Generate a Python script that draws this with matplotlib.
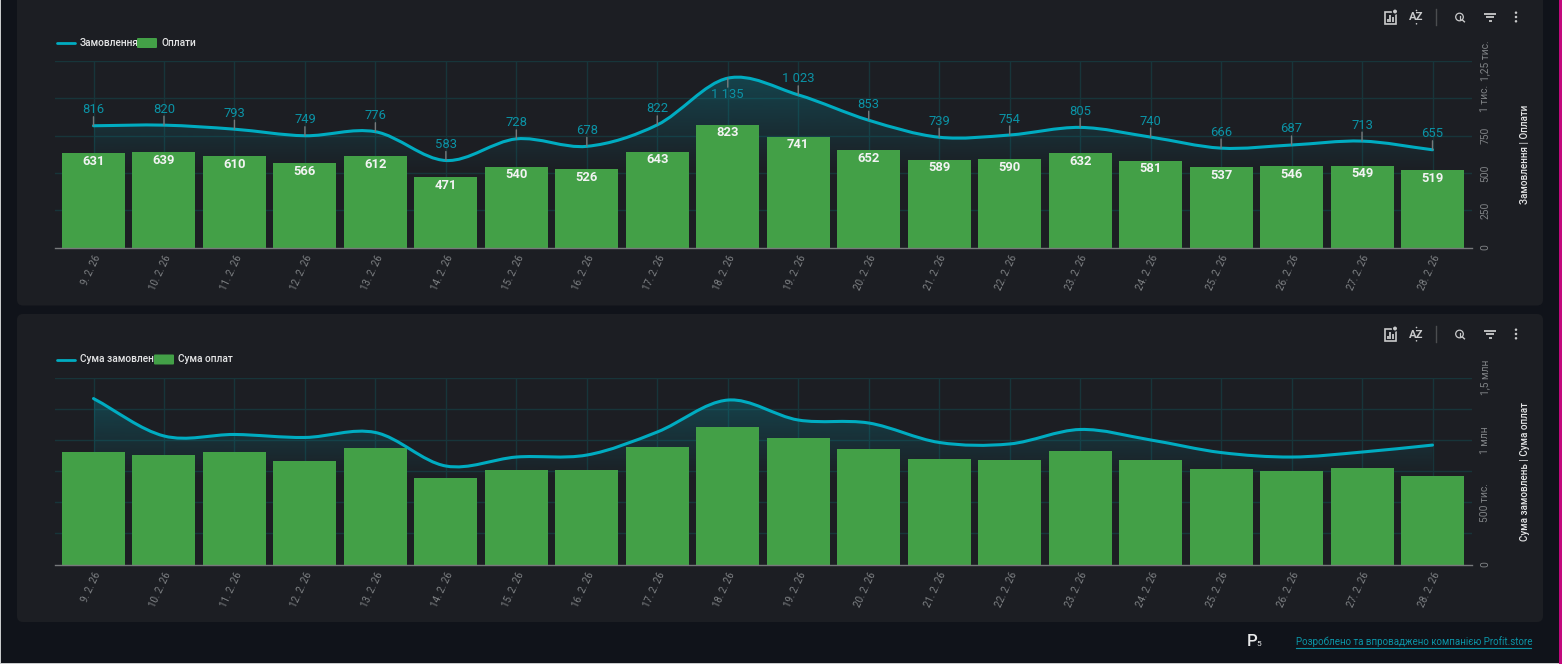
import numpy as np
import matplotlib
matplotlib.use("Agg")
import matplotlib.pyplot as plt
from matplotlib.patches import FancyBboxPatch, PathPatch, Rectangle, Circle
from matplotlib.path import Path

plt.rcParams["font.family"] = ["Roboto", "DejaVu Sans"]

W, H = 1562, 664

days = [f"{d}. 2. 26" for d in range(9, 29)]

orders = [816, 820, 793, 749, 776, 583, 728, 678, 822, 1135,
          1023, 853, 739, 754, 805, 740, 666, 687, 713, 655]
payments = [631, 639, 610, 566, 612, 471, 540, 526, 643, 823,
            741, 652, 589, 590, 632, 581, 537, 546, 549, 519]

order_sums = [1331e3, 1031e3, 1043e3, 1019e3, 1059e3, 790e3, 862e3, 878e3, 1063e3, 1319e3,
              1159e3, 1135e3, 979e3, 967e3, 1083e3, 999e3, 898e3, 862e3, 902e3, 958e3]
payment_sums = [902e3, 878e3, 906e3, 830e3, 938e3, 694e3, 762e3, 762e3, 946e3, 1099e3,
                1015e3, 926e3, 846e3, 838e3, 910e3, 842e3, 770e3, 750e3, 774e3, 710e3]

top_ticks = [0, 250, 500, 750, 1000, 1250]
top_tick_labels = ["0", "250", "500", "750", "1 тис.", "1,25 тис."]
bottom_grid = [0, 250e3, 500e3, 750e3, 1000e3, 1250e3, 1500e3]
bottom_tick_labels = {0: "0", 500e3: "500 тис.", 1000e3: "1 млн", 1500e3: "1,5 млн"}

PAGE = "#10131a"
PANEL = "#1c1e23"
GREEN = "#43a047"
TEAL = "#00acc1"
TEAL_TEXT = "#0b93a6"
GRID = "#17353a"
TICK = "#7f8285"
SOFT = "#e4e5e6"


def smooth_path(x, y):
    """Catmull-Rom curve through the points, expressed as cubic Bezier segments."""
    x, y = np.asarray(x, float), np.asarray(y, float)
    dx = np.gradient(x)
    dy = np.gradient(y)
    verts = [(x[0], y[0])]
    codes = [Path.MOVETO]
    for i in range(len(x) - 1):
        verts += [(x[i] + dx[i] / 3, y[i] + dy[i] / 3),
                  (x[i + 1] - dx[i + 1] / 3, y[i + 1] - dy[i + 1] / 3),
                  (x[i + 1], y[i + 1])]
        codes += [Path.CURVE4] * 3
    return verts, codes


fig = plt.figure(figsize=(W / 100, H / 100), dpi=100, facecolor=PAGE)

# Page layer in pixel coordinates: panels, legends, toolbars and footer
page = fig.add_axes([0, 0, 1, 1])
page.set_xlim(0, W)
page.set_ylim(H, 0)
page.axis("off")
page.add_patch(Rectangle((0, 0), 1, H, fc="#c9cbcc", ec="none"))
page.add_patch(Rectangle((0, 663), W, 1, fc="#c9cbcc", ec="none"))
page.add_patch(Rectangle((1558.7, 0), 3.3, H, fc="#c2087c", ec="none"))
for top, bottom in [(-20, 305.5), (314, 622)]:
    page.add_patch(FancyBboxPatch((17 + 6, top + 6), 1526 - 12, bottom - top - 12,
                                  boxstyle="round,pad=6,rounding_size=6",
                                  fc=PANEL, ec="none"))


def legend(y, line_name, bar_name, rect_x, bar_text_x):
    page.plot([57, 75], [y, y], color=TEAL, lw=2.0, solid_capstyle="round")
    label = page.text(80, y, line_name, color=SOFT, fontsize=7.3, fontweight="medium",
                      va="center", ha="left", clip_on=True)
    label.set_clip_path(Rectangle((57, y - 12), rect_x - 57, 24, transform=page.transData))
    page.add_patch(FancyBboxPatch((rect_x + 1, y - 4), 18, 8,
                                  boxstyle="round,pad=1,rounding_size=1",
                                  fc=GREEN, ec="none", zorder=3))
    page.text(bar_text_x, y, bar_name, color=SOFT, fontsize=7.3, fontweight="medium",
              va="center", ha="left")


def toolbar(y):
    col = "#c9cacb"
    # chart settings icon
    page.add_patch(Rectangle((1385, y - 5.5), 10.5, 12, fc="none", ec=col, lw=1.2))
    for bx, bh in [(1387.7, 3), (1390.2, 7), (1392.7, 4.5)]:
        page.plot([bx, bx], [y + 4.5, y + 4.5 - bh], color=col, lw=1.3, solid_capstyle="butt")
    page.add_patch(Circle((1395, y - 5.5), 2.6, fc=col, ec=PANEL, lw=0.9))
    # sort icon
    page.text(1416, y + 0.5, "AZ", color=col, fontsize=8.2, fontweight="bold",
              ha="center", va="center")
    page.add_patch(Circle((1416.5, y - 6.5), 0.8, fc=col, ec="none"))
    page.add_patch(Circle((1416.5, y + 6.8), 0.8, fc=col, ec="none"))
    # separator
    page.plot([1436, 1436], [y - 8, y + 8], color="#4b4d50", lw=1)
    # zoom icon
    page.add_patch(Circle((1459.5, y), 3.8, fc="none", ec=col, lw=0.9))
    page.plot([1462.2, 1464.4], [y + 2.8, y + 4.8], color=col, lw=1.0)
    page.plot([1459.5, 1459.5], [y - 1.5, y + 1.5], color=col, lw=0.9)
    # filter icon
    for half, dy in [(6, -3.5), (4, 0), (1.5, 3.5)]:
        page.plot([1490 - half, 1490 + half], [y + dy, y + dy], color=col, lw=1.3,
                  solid_capstyle="butt")
    # kebab icon
    for dy in (-4.3, 0, 4.3):
        page.add_patch(Circle((1516, y + dy), 1.25, fc=col, ec="none"))


legend(43, "Замовлення", "Оплати", 137, 161)
legend(359.5, "Сума замовлень", "Сума оплат", 154, 178)
toolbar(17)
toolbar(334)

# Footer
page.text(1252, 642, "P", color="#e8e9ea", fontsize=12, fontweight="medium", ha="center", va="center")
page.text(1259, 644.5, "5", color="#e8e9ea", fontsize=6, ha="center", va="center")
page.text(1296, 642, "Розроблено та впроваджено компанією Profit.store", color=TEAL_TEXT,
          fontsize=7.05, ha="left", va="center")
page.plot([1296, 1531], [647.5, 647.5], color=TEAL_TEXT, lw=0.8)


def chart(y_top, y_zero, y_max, grid_vals, tick_map, line_vals, bar_vals, title, title_y,
          show_labels):
    left, right = 55, 1472
    ax = fig.add_axes([left / W, 1 - y_zero / H, (right - left) / W, (y_zero - y_top) / H])
    ax.patch.set_alpha(0)
    x = np.arange(len(days))
    step = (1432.5 - 93.5) / 19
    xlim = ((left - 93.5) / step, (right - 93.5) / step)

    for g in grid_vals[1:]:
        ax.axhline(g, color=GRID, lw=1, zorder=1)
    for xi in x:
        ax.axvline(xi, color=GRID, lw=1, zorder=1)

    ax.bar(x, bar_vals, width=63 / step, color=GREEN, zorder=3)

    verts, codes = smooth_path(x, line_vals)
    area = Path(verts + [(x[-1], 0), (x[0], 0), (x[0], line_vals[0])],
                codes + [Path.LINETO, Path.LINETO, Path.CLOSEPOLY])
    # Teal wash under the curve, fading out downward behind the bars
    ramp_top = max(line_vals) * 1.02
    ramp_bottom = min(line_vals) * 0.86
    ramp = np.zeros((200, 1, 4))
    ramp[..., :3] = matplotlib.colors.to_rgb(TEAL)
    ramp[..., 3] = np.linspace(0.27, 0.0, 200).reshape(-1, 1)
    img = ax.imshow(ramp, extent=(x[0], x[-1], ramp_bottom, ramp_top), aspect="auto",
                    origin="upper", zorder=2, interpolation="bilinear")
    img.set_clip_path(PathPatch(area, transform=ax.transData))

    ax.add_patch(PathPatch(Path(verts, codes), fc="none", ec=TEAL, lw=2.2, zorder=4,
                           capstyle="round"))

    if show_labels:
        for xi, lv, bv in zip(x, line_vals, bar_vals):
            text = f"{lv:,}".replace(",", " ")
            # the tallest value does not fit above the curve, so it hangs beneath it
            sign = -1 if lv > 1100 else 1
            ax.annotate("", xy=(xi, lv), xytext=(0, sign * 9), textcoords="offset pixels",
                        arrowprops=dict(arrowstyle="-", color="#77797b", lw=1,
                                        shrinkA=0, shrinkB=0), zorder=5)
            ax.annotate(text, xy=(xi, lv), xytext=(0, sign * 16), textcoords="offset pixels",
                        color=TEAL_TEXT, fontsize=9.4, ha="center", va="center", zorder=6,
                        annotation_clip=False)
            ax.annotate(str(bv), xy=(xi, bv), xytext=(0, -8), textcoords="offset pixels",
                        color="#f2f3f3", fontsize=9.4, fontweight="bold", ha="center",
                        va="center", zorder=6)

    ax.set_xlim(*xlim)
    ax.set_ylim(0, y_max)
    ax.set_xticks(x)
    ax.set_xticklabels(days, rotation=65, ha="right", va="top", rotation_mode="anchor",
                       color=TICK, fontsize=7.0)
    ax.tick_params(axis="x", length=0, pad=4)
    ax.yaxis.tick_right()
    ax.set_yticks(list(tick_map))
    ax.set_yticklabels(list(tick_map.values()), rotation=90, va="center", ha="center",
                       color=TICK, fontsize=7.4)
    ax.tick_params(axis="y", length=0, pad=9.5)
    for side in ("top", "left", "right"):
        ax.spines[side].set_visible(False)
    ax.spines["bottom"].set_color("#77797b")
    ax.spines["bottom"].set_linewidth(1.0)
    ax.spines["bottom"].set_zorder(5)

    page.text(1525, title_y, title, color=SOFT, fontsize=7.1, fontweight="medium", rotation=90,
              ha="center", va="center")


chart(61, 247.5, 1250, top_ticks, dict(zip(top_ticks, top_tick_labels)), orders, payments,
      "Замовлення | Оплати", 154, True)
chart(377.5, 564.5, 1500e3, bottom_grid, bottom_tick_labels, order_sums, payment_sums,
      "Сума замовлень | Сума оплат", 472, False)

fig.savefig("out.png", dpi=100, facecolor=PAGE)
